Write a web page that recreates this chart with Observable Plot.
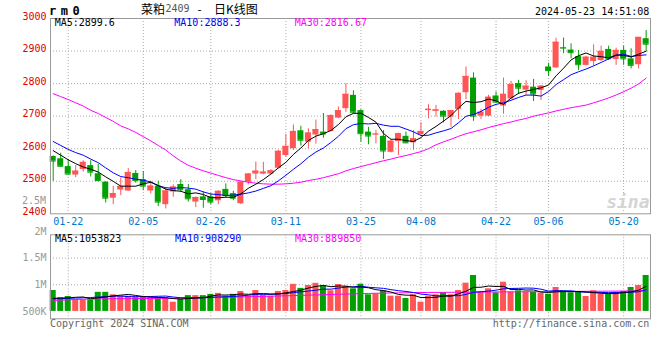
<!DOCTYPE html>
<html><head><meta charset="utf-8">
<script src="https://cdn.jsdelivr.net/npm/d3@7"></script>
<script src="https://cdn.jsdelivr.net/npm/@observablehq/plot@0.6"></script>
<style>
body{margin:0;background:#fff;}
#wrap{position:relative;width:660px;height:360px;overflow:hidden;font-family:"DejaVu Sans Mono",monospace;font-size:10px;color:#000;}
.t{position:absolute;white-space:pre;line-height:10px;}
#price,#vol{position:absolute;left:0;}
#price{top:0}
#vol{top:226px}
</style></head>
<body><div id="wrap">
<div id="price"></div>
<div id="vol"></div>
<div class="t" style="left:49px;top:5px;font-weight:bold;font-size:12px;line-height:12px;letter-spacing:4.5px">rm0</div>
<div class="t" style="left:141px;top:2.5px;font-family:'Noto Sans CJK SC';font-size:12px;line-height:12px">菜粕</div>
<div class="t" style="left:165.5px;top:4px;color:#555">2409</div>
<div class="t" style="left:197.5px;top:2.5px;font-family:'Noto Sans CJK SC';font-size:12px;line-height:12px">-</div>
<div class="t" style="left:214px;top:2.5px;font-family:'Noto Sans CJK SC';font-size:12px;line-height:12px">日K线图</div>
<div class="t" style="right:10.7px;top:7px">2024-05-23 14:51:08</div>
<div class="t" style="left:54.7px;top:17.5px;color:#000">MA5:2899.6</div>
<div class="t" style="left:174.3px;top:17.5px;color:#0000ff">MA10:2888.3</div>
<div class="t" style="left:294.7px;top:17.5px;color:#ff00ff">MA30:2816.67</div>
<div class="t" style="right:614px;top:196px;color:#999">2.5M</div>
<div class="t" style="left:55px;top:233.7px;color:#000">MA5:1053823</div>
<div class="t" style="left:175px;top:233.7px;color:#0000ff">MA10:908290</div>
<div class="t" style="left:295px;top:233.7px;color:#ff00ff">MA30:889850</div>
<div class="t" style="left:50px;top:319.2px;color:#666">Copyright 2024 SINA.COM</div>
<div class="t" style="right:10.7px;top:319.2px;color:#666">http://finance.sina.com.cn</div>
</div>
<script>
// ---- data (trading days 2024-01-18 .. 2024-05-23, index 0..79) ----
const open = [2576,2569,2545,2519,2536,2548,2523,2497,2448,2473,
  2470,2524,2505,2470,2485,2428,2467,2490,2474,2436,
  2452,2452,2440,2475,2462,2431,2497,2522,2522,2522,
  2540,2579,2600,2655,2620,2642,2651,2653,2694,2723,
  2764,2717,2651,2643,2638,2589,2622,2638,2618,2643,
  2717,2715,2715,2697,2721,2772,2817,2700,2700,2762,
  2731,2753,2800,2780,2789,2779,2851,2848,2911,2903,
  2883,2856,2868,2871,2905,2874,2902,2876,2858,2938];
const high = [2578,2586,2567,2548,2563,2563,2552,2499,2484,2510,
  2539,2533,2530,2500,2500,2481,2489,2505,2490,2452,
  2467,2462,2471,2492,2469,2499,2524,2559,2558,2536,
  2595,2644,2673,2669,2661,2688,2708,2704,2728,2800,
  2778,2720,2666,2656,2656,2628,2648,2651,2656,2680,
  2735,2733,2717,2717,2772,2851,2833,2721,2764,2774,
  2817,2807,2810,2809,2813,2794,2863,2939,2940,2922,
  2902,2884,2919,2915,2915,2909,2915,2907,2942,2963];
const low = [2500,2543,2520,2511,2528,2513,2499,2433,2428,2456,
  2469,2494,2471,2461,2422,2415,2451,2467,2436,2419,
  2417,2428,2428,2448,2440,2428,2489,2505,2520,2518,
  2538,2574,2595,2608,2600,2614,2632,2651,2692,2712,
  2707,2620,2612,2615,2567,2587,2579,2615,2595,2641,
  2692,2697,2679,2666,2690,2751,2684,2690,2699,2741,
  2706,2751,2766,2764,2745,2748,2822,2848,2892,2876,
  2840,2854,2854,2868,2871,2856,2856,2845,2845,2899];
const close = [2562,2546,2522,2531,2558,2528,2502,2448,2462,2484,
  2527,2502,2485,2485,2436,2470,2482,2474,2446,2450,
  2444,2436,2469,2456,2448,2497,2522,2531,2528,2532,
  2592,2607,2653,2626,2648,2659,2645,2702,2717,2767,
  2712,2646,2639,2645,2593,2623,2646,2618,2631,2653,
  2721,2719,2700,2717,2770,2822,2700,2712,2758,2743,
  2767,2797,2786,2792,2768,2792,2840,2927,2909,2895,
  2858,2881,2881,2899,2876,2902,2876,2856,2942,2921];
const ma5 = [2594,2580,2566,2554,2543.8,2537.0,2528.2,2513.4,2499.7,2485.0,
  2484.8,2484.8,2492.2,2496.7,2487.0,2475.6,2471.5,2469.2,2461.4,2464.3,
  2459.2,2449.9,2448.9,2451.0,2450.6,2461.2,2478.4,2490.9,2505.3,2522.0,
  2541.1,2558.1,2582.4,2602.1,2625.3,2638.6,2646.1,2656.0,2674.2,2697.9,
  2708.6,2708.8,2696.1,2681.6,2646.8,2629.0,2629.0,2624.9,2622.2,2634.3,
  2653.7,2668.3,2684.7,2701.9,2725.2,2745.5,2741.8,2744.3,2752.5,2747.1,
  2736.1,2755.5,2770.3,2777.0,2781.9,2787.1,2795.7,2823.9,2847.3,2872.7,
  2885.8,2894.0,2884.8,2882.7,2879.0,2887.9,2886.8,2881.7,2890.3,2899.6];
const ma10 = [2622,2610,2598,2588,2580,2568,2557,2541,2526,2514.4,
  2510.9,2506.5,2502.8,2498.2,2486.0,2480.2,2478.1,2480.7,2479.0,2475.7,
  2467.4,2460.7,2459.1,2456.2,2457.4,2460.2,2464.2,2469.9,2478.1,2486.3,
  2501.2,2518.3,2536.7,2553.7,2573.7,2589.8,2602.1,2619.2,2638.1,2661.6,
  2673.6,2677.5,2676.1,2677.9,2672.4,2668.8,2668.9,2660.5,2651.9,2640.5,
  2641.4,2648.6,2654.8,2662.0,2679.8,2699.6,2705.0,2714.5,2727.2,2736.2,
  2740.8,2748.7,2757.3,2764.7,2764.5,2761.6,2775.6,2797.1,2812.2,2827.3,
  2836.4,2844.8,2854.4,2865.0,2875.9,2886.8,2890.4,2883.3,2886.5,2888.3];
const ma30 = [2769,2760,2751,2741,2731,2718,2708,2696,2684,2670,
  2661,2650,2637,2624,2610,2596,2578,2562,2549,2540,
  2532,2525,2518,2511,2505,2501,2497,2494,2492,2491,
  2491,2492,2494,2497,2502,2506,2511,2517,2523,2532,
  2539,2545,2551,2557,2563,2568,2574,2579,2585,2591,
  2600,2612,2621,2629,2638,2646,2652,2658,2665,2671,
  2677,2682,2688,2693,2700,2705,2710,2716,2721,2726,
  2730,2734,2741,2748,2756,2765,2775,2786,2799,2816.67];
// volume, in thousands
const volume = [892,756,780,714,714,714,858,858,812,785,
  785,757,757,757,757,757,673,724,796,796,
  796,820,839,786,820,874,786,892,799,786,
  874,892,1008,933,986,1027,984,887,1005,968,
  924,1011,812,823,887,786,786,742,812,673,
  786,812,849,812,892,1030,1174,861,924,849,
  1048,861,887,861,861,842,823,949,887,849,
  861,780,887,823,823,861,874,949,986,1174];
const volMa5 = [745,750,755,765,771,735.6,756,771.6,791.2,805.4,
  819.6,799.4,779.2,768.2,762.6,757,740.2,733.6,741.4,749.2,
  757,786.4,809.4,807.4,812.2,827.8,821,831.6,834.2,827.4,
  827.4,848.6,871.8,898.6,938.6,969.2,987.6,963.4,977.8,974.2,
  953.6,959,944,907.6,891.4,863.8,818.8,804.8,802.6,759.8,
  759.8,765,786.4,786.4,830.2,879,951.4,953.8,976.2,967.6,
  971.2,908.6,913.8,901.2,903.6,862.4,854.8,867.2,872.4,870,
  873.8,865.2,852.8,840,834.8,834.8,853.6,866,898.6,968.8];
const volMa10 = [735,740,745,750,755,760,770,778,785,788.3,
  777.6,777.7,775.4,779.7,784,788.3,769.8,756.4,754.8,755.9,
  757,763.3,771.5,774.4,780.7,792.4,803.7,820.5,820.8,819.8,
  827.6,834.8,851.7,866.4,883,898.3,918.1,917.6,938.2,956.4,
  961.4,973.3,953.7,942.7,932.8,908.7,888.9,874.4,855.1,825.6,
  811.8,791.9,795.6,794.5,795,819.4,858.2,870.1,881.3,898.9,
  925.1,930,933.8,938.7,935.6,916.8,881.7,890.5,886.8,886.8,
  868.1,860,860,856.2,852.4,854.3,859.4,859.4,869.3,901.8];
const volMa30 = [705,712,718,724,728,732,735,737,738,739,
  740,741,742,743,744,746,748,750,752,755,
  758,761,764,767,770,773,776,779,782,785,
  789,793,797,801,805,809,813,817,821,825,
  829,833,837,840,843,846,848,850,852,854,
  856,857,858,859,860,861,862,863,864,865,
  866,867,868,869,870,871,872,873,874,875,
  876,877,878,879,880,881,883,885,887,890];
const dateTicks = [2,12,21,31,41,49,59,66,76];
const dateLabels = ["01-22","02-05","02-26","03-11","03-25","04-08","04-22","05-06","05-20"];
const priceTicks = [2400,2500,2600,2700,2800,2900,3000];
const volTicks = [500,1000,1500,2000];
const volTickLabels = ["500K","1M","1.5M","2M"];

// ---- build ----
const RED = "#ff5555", GREEN = "#00a000";
const candles = open.map((o, i) => ({i, o, h: high[i], l: low[i], c: close[i], v: volume[i], col: close[i] >= o ? RED : GREEN}));
const xDomain = [-0.36, 79.58];
const gridStyle = {stroke: "#aaa", strokeOpacity: 1, strokeDasharray: "1,2"};
const font = {fontFamily: "DejaVu Sans Mono", fontSize: "10px", background: "transparent", overflow: "visible"};

const price = Plot.plot({
  width: 660, height: 228, marginLeft: 50, marginRight: 10, marginTop: 18, marginBottom: 14.7,
  style: font,
  x: {domain: xDomain, label: null},
  y: {domain: [2400, 3000], label: null},
  color: {type: "identity"},
  marks: [
    Plot.gridY(priceTicks.filter(d => d > 2400 && d < 3000), gridStyle),
    Plot.gridX(dateTicks, gridStyle),
    Plot.axisY(priceTicks, {label: null, tickSize: 0, tickPadding: 4, fill: "#e00000", dy: -2, tickFormat: d => String(d)}),
    Plot.axisX(dateTicks, {label: null, tickSize: 0, tickPadding: 4, fill: "#0077cc", tickFormat: d => dateLabels[dateTicks.indexOf(d)]}),
    Plot.text(["sina"], {frameAnchor: "bottom-right", dx: -1, dy: -6, fontSize: 18, fontWeight: "bold", fontStyle: "italic", fill: "#d4d4d4"}),
    Plot.ruleX(candles, {x: "i", y1: "l", y2: "h", stroke: "col"}),
    Plot.rect(candles, {x1: d => d.i - 0.4, x2: d => d.i + 0.4, y1: "o", y2: "c", fill: "col"}),
    Plot.ruleY(candles, {y: "c", x1: d => d.i - 0.4, x2: d => d.i + 0.4, stroke: "col"}),
    Plot.line(ma30, {x: (d, i) => i, y: d => d, stroke: "#ff00ff", strokeWidth: 1}),
    Plot.line(ma10, {x: (d, i) => i, y: d => d, stroke: "#0000ff", strokeWidth: 1}),
    Plot.line(ma5, {x: (d, i) => i, y: d => d, stroke: "#000", strokeWidth: 1}),
    Plot.frame({stroke: "#999"})
  ]
});
document.getElementById("price").append(price);

const vol = Plot.plot({
  width: 660, height: 94.3, marginLeft: 50, marginRight: 10, marginTop: 8.3, marginBottom: 2,
  style: font,
  x: {domain: xDomain, axis: null, label: null},
  y: {domain: [361.3, 1938], label: null},
  color: {type: "identity"},
  marks: [
    Plot.gridY([1000, 1500], gridStyle),
    Plot.gridX(dateTicks, gridStyle),
    Plot.axisY(volTicks, {label: null, tickSize: 0, tickPadding: 4, fill: "#999", tickFormat: d => volTickLabels[volTicks.indexOf(d)]}),
    Plot.rect(candles, {x1: d => d.i - 0.4, x2: d => d.i + 0.4, y1: 500, y2: "v", fill: "col"}),
    Plot.line(volMa30, {x: (d, i) => i, y: d => d, stroke: "#ff00ff", strokeWidth: 1}),
    Plot.line(volMa10, {x: (d, i) => i, y: d => d, stroke: "#0000ff", strokeWidth: 1}),
    Plot.line(volMa5, {x: (d, i) => i, y: d => d, stroke: "#000", strokeWidth: 1}),
    Plot.frame({stroke: "#999"})
  ]
});
document.getElementById("vol").append(vol);
</script>
</body></html>
